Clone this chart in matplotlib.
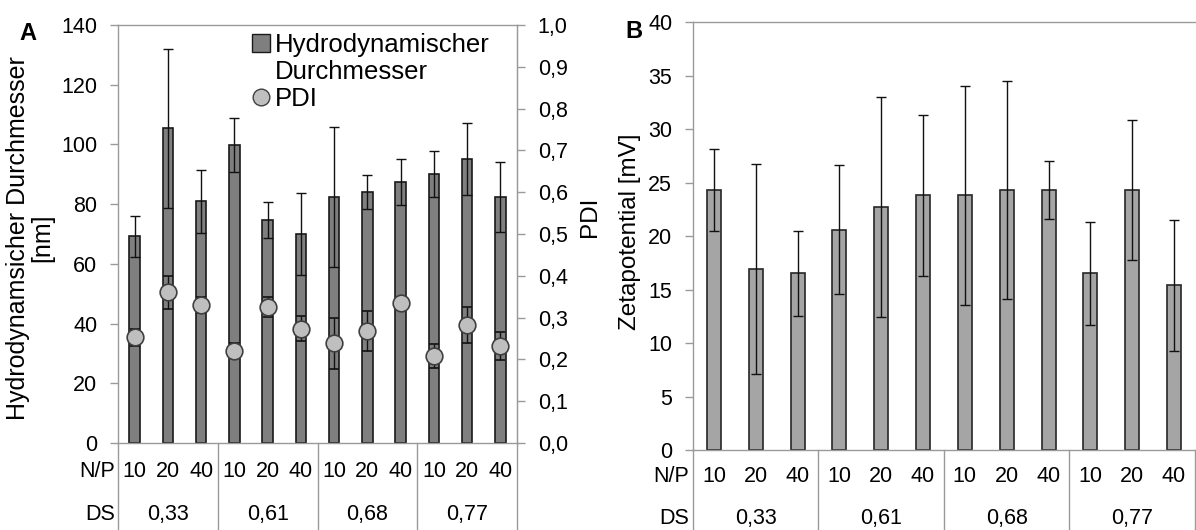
import numpy as np
import matplotlib.pyplot as plt
from matplotlib.patches import Patch
from matplotlib.lines import Line2D

plt.rcParams['font.family'] = ['Liberation Sans', 'DejaVu Sans']

# data
np_ratio = ['10', '20', '40'] * 4
ds_groups = ['0,33', '0,61', '0,68', '0,77']

hd = [69.2, 105.4, 80.9, 99.7, 74.7, 70.0, 82.4, 84.1, 87.3, 90.2, 95.1, 82.4]
hd_err = [6.9, 26.7, 10.5, 9.1, 6.1, 13.7, 23.4, 5.8, 7.7, 7.7, 11.9, 11.7]

pdi = [0.253, 0.360, 0.330, 0.221, 0.326, 0.273, 0.238, 0.268, 0.336, 0.208, 0.282, 0.232]
pdi_err = [0.02, 0.04, 0.02, 0.017, 0.024, 0.03, 0.062, 0.047, 0.01, 0.029, 0.044, 0.033]

zeta = [24.3, 16.9, 16.5, 20.6, 22.7, 23.8, 23.8, 24.3, 24.3, 16.5, 24.3, 15.4]
zeta_err = [3.8, 9.8, 4.0, 6.0, 10.3, 7.5, 10.2, 10.2, 2.7, 4.8, 6.5, 6.1]

axis_col = '#9a9a9a'
tick_fs = 15.5
label_fs = 17.5

x = np.arange(len(hd))

fig = plt.figure(figsize=(11.96, 5.3), dpi=100)
axA = fig.add_axes([0.0987, 0.1642, 0.3336, 0.7887])
axB = fig.add_axes([0.5794, 0.1509, 0.4197, 0.8075])


def style_axis(ax):
    for s in ax.spines.values():
        s.set_color(axis_col)
        s.set_linewidth(1)
    ax.tick_params(axis='y', colors=axis_col, labelcolor='black', length=6,
                   width=1, pad=9, labelsize=tick_fs)
    ax.tick_params(axis='x', length=0, labelbottom=False)
    ax.set_xlim(-0.5, len(x) - 0.5)


def category_rows(ax, y_np, y_ds, y_end):
    tr = ax.get_xaxis_transform()
    for xi, lab in zip(x, np_ratio):
        ax.text(xi, y_np, lab, transform=tr, ha='center', va='center', fontsize=tick_fs)
    for g, lab in enumerate(ds_groups):
        ax.text(3 * g + 1, y_ds, lab, transform=tr, ha='center', va='center', fontsize=tick_fs)
    for b in np.arange(-0.5, len(x), 3):
        ax.add_line(Line2D([b, b], [0, y_end], transform=tr, color=axis_col,
                           lw=1, clip_on=False))
    ax.text(-0.6, y_np, 'N/P', transform=tr, ha='right', va='center', fontsize=tick_fs)
    ax.text(-0.6, y_ds, 'DS', transform=tr, ha='right', va='center', fontsize=tick_fs)


# --- panel A ---
style_axis(axA)
axA.bar(x, hd, width=0.32, color='#7f7f7f', edgecolor='#1a1a1a', linewidth=1.2, zorder=2)
axA.errorbar(x, hd, yerr=hd_err, fmt='none', ecolor='#111111', elinewidth=1,
             capsize=3.8, capthick=1, zorder=3)
axA.set_ylim(0, 140)
axA.set_yticks(np.arange(0, 141, 20))
axA.set_ylabel('Hydrodynamsicher Durchmesser\n[nm]', fontsize=18, linespacing=1.0)
axA.yaxis.set_label_coords(-0.16, 0.49)
category_rows(axA, -0.068, -0.172, -0.21)

axA2 = axA.twinx()
for s in axA2.spines.values():
    s.set_visible(False)
axA2.spines['right'].set_visible(True)
axA2.spines['right'].set_color(axis_col)
axA2.errorbar(x, pdi, yerr=pdi_err, fmt='o', ms=12, mfc='#bfbfbf', mec='#404040',
              mew=1.2, ecolor='#111111', elinewidth=1, capsize=3.8, capthick=1)
axA2.set_ylim(0, 1.0)
axA2.set_yticks(np.arange(0, 1.01, 0.1))
axA2.set_yticklabels([f'{v:.1f}'.replace('.', ',') for v in np.arange(0, 1.01, 0.1)])
axA2.tick_params(axis='y', colors=axis_col, labelcolor='black', length=6,
                 width=1, pad=9, labelsize=tick_fs)
axA2.set_ylabel('PDI', fontsize=label_fs)
axA2.yaxis.set_label_coords(1.155, 0.54)

handles = [Patch(facecolor='#7f7f7f', edgecolor='#1a1a1a'),
           Patch(visible=False),
           Line2D([], [], ls='none', marker='o', ms=12, mfc='#bfbfbf', mec='#404040')]
labels = ['Hydrodynamischer', 'Durchmesser', 'PDI']
axA2.legend(handles, labels, loc='upper left', bbox_to_anchor=(0.31, 1.005),
            frameon=False, fontsize=18.5, handlelength=0.7, handleheight=0.7,
            handletextpad=0.2, labelspacing=0.12, borderaxespad=0)

fig.text(28 / 1196, 1 - 33 / 530, 'A', fontsize=17, fontweight='bold', ha='center', va='center')

# --- panel B ---
style_axis(axB)
axB.spines['right'].set_visible(False)
axB.bar(x, zeta, width=0.335, color='#a5a5a5', edgecolor='#262626', linewidth=1.2, zorder=2)
axB.errorbar(x, zeta, yerr=zeta_err, fmt='none', ecolor='#111111', elinewidth=1,
             capsize=3.8, capthick=1, zorder=3)
axB.set_ylim(0, 40)
axB.set_yticks(np.arange(0, 41, 5))
axB.set_ylabel('Zetapotential [mV]', fontsize=label_fs)
axB.yaxis.set_label_coords(-0.104, 0.51)
category_rows(axB, -0.063, -0.159, -0.19)

fig.text(634 / 1196, 1 - 31 / 530, 'B', fontsize=17, fontweight='bold', ha='center', va='center')

fig.savefig('out.png', dpi=100)
